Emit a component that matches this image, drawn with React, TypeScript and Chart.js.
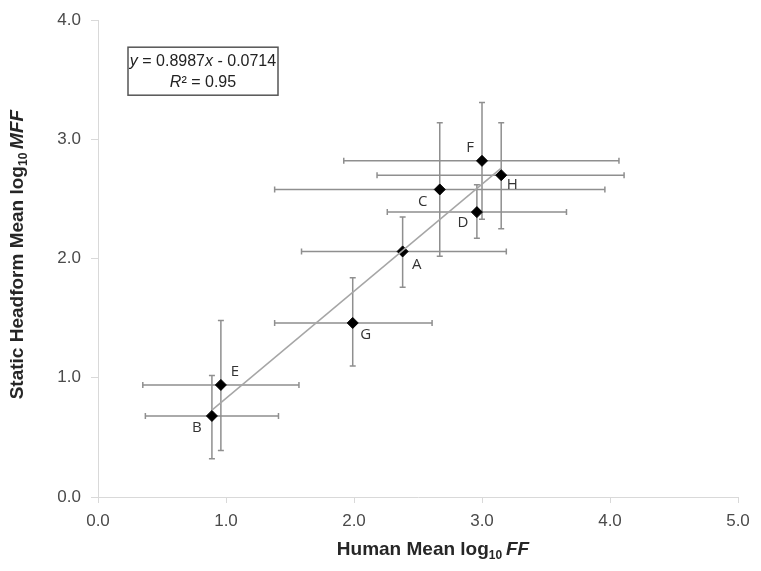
import React, { useEffect, useRef } from 'react';
import { Chart, registerables } from 'chart.js';

Chart.register(...registerables);

// ---- data ----
const pointLabels = ['A', 'B', 'C', 'D', 'E', 'F', 'G', 'H'];
const humanMean = [2.38, 0.89, 2.67, 2.96, 0.96, 3.0, 1.99, 3.15];
const headformMean = [2.06, 0.68, 2.58, 2.39, 0.94, 2.82, 1.46, 2.7];
const humanLow = [1.59, 0.37, 1.38, 2.26, 0.35, 1.92, 1.38, 2.18];
const humanHigh = [3.19, 1.41, 3.96, 3.66, 1.57, 4.07, 2.61, 4.11];
const headformLow = [1.76, 0.32, 2.02, 2.17, 0.39, 2.33, 1.1, 2.25];
const headformHigh = [2.35, 1.02, 3.14, 2.62, 1.48, 3.31, 1.84, 3.14];
const trendSlope = 0.8987;
const trendIntercept = -0.0714;
const rSquared = '0.95';
const xAxisRange = [0, 5];
const yAxisRange = [0, 4];

// label placement offsets (style, in px)
const labelOffsets: Record<string, [number, number]> = {
  A: [14, 13], B: [-15, 12], C: [-17, 12], D: [-14, 11],
  E: [14, -13], F: [-12, -13], G: [13, 12], H: [11, 10],
};

type Seg = { t: string; bold?: boolean; italic?: boolean; sub?: boolean };

const FONT = '"Liberation Sans", Arial, sans-serif';

function segFont(s: Seg, size: number) {
  const sz = s.sub ? Math.round(size * 0.65) : size;
  return `${s.italic ? 'italic ' : ''}${s.bold ? 'bold ' : ''}${sz}px ${FONT}`;
}

function drawSegs(ctx: CanvasRenderingContext2D, segs: Seg[], cx: number, cy: number, size: number) {
  let total = 0;
  const widths = segs.map((s) => {
    ctx.font = segFont(s, size);
    const w = ctx.measureText(s.t).width;
    total += w;
    return w;
  });
  let x = cx - total / 2;
  ctx.textAlign = 'left';
  ctx.textBaseline = 'middle';
  segs.forEach((s, i) => {
    ctx.font = segFont(s, size);
    ctx.fillText(s.t, x, cy + (s.sub ? size * 0.3 : 0));
    x += widths[i];
  });
}

const decorPlugin = {
  id: 'decor',
  beforeDatasetsDraw(chart: any) {
    const ctx = chart.ctx as CanvasRenderingContext2D;
    const xs = chart.scales.x;
    const ys = chart.scales.y;
    ctx.save();
    ctx.strokeStyle = '#8f8f8f';
    ctx.lineWidth = 1.5;
    const cap = 3;
    humanMean.forEach((hx, i) => {
      const px = xs.getPixelForValue(hx);
      const py = ys.getPixelForValue(headformMean[i]);
      const x1 = xs.getPixelForValue(humanLow[i]);
      const x2 = xs.getPixelForValue(humanHigh[i]);
      const y1 = ys.getPixelForValue(headformLow[i]);
      const y2 = ys.getPixelForValue(headformHigh[i]);
      ctx.beginPath();
      ctx.moveTo(x1, py); ctx.lineTo(x2, py);
      ctx.moveTo(x1, py - cap); ctx.lineTo(x1, py + cap);
      ctx.moveTo(x2, py - cap); ctx.lineTo(x2, py + cap);
      ctx.moveTo(px, y1); ctx.lineTo(px, y2);
      ctx.moveTo(px - cap, y1); ctx.lineTo(px + cap, y1);
      ctx.moveTo(px - cap, y2); ctx.lineTo(px + cap, y2);
      ctx.stroke();
    });
    ctx.restore();
  },
  afterDraw(chart: any) {
    const ctx = chart.ctx as CanvasRenderingContext2D;
    const xs = chart.scales.x;
    const ys = chart.scales.y;
    const ca = chart.chartArea;
    ctx.save();
    // point labels
    ctx.fillStyle = '#333333';
    ctx.font = `15px "Open Sans", ${FONT}`;
    ctx.textAlign = 'center';
    ctx.textBaseline = 'middle';
    pointLabels.forEach((lab, i) => {
      const px = xs.getPixelForValue(humanMean[i]);
      const py = ys.getPixelForValue(headformMean[i]);
      const [dx, dy] = labelOffsets[lab];
      ctx.fillText(lab, px + dx, py + dy);
    });

    // equation box
    const bx = ca.left + 30;
    const by = ca.top + 27;
    const bw = 150;
    const bh = 48;
    ctx.fillStyle = '#ffffff';
    ctx.fillRect(bx, by, bw, bh);
    ctx.strokeStyle = '#555555';
    ctx.lineWidth = 1.5;
    ctx.strokeRect(bx, by, bw, bh);
    ctx.fillStyle = '#222222';
    const sign = trendIntercept < 0 ? '-' : '+';
    drawSegs(ctx, [
      { t: 'y', italic: true },
      { t: ` = ${trendSlope.toFixed(4)}` },
      { t: 'x', italic: true },
      { t: ` ${sign} ${Math.abs(trendIntercept).toFixed(4)}` },
    ], bx + bw / 2, by + 14, 16);
    drawSegs(ctx, [
      { t: 'R', italic: true },
      { t: '²' },
      { t: ` = ${rSquared}` },
    ], bx + bw / 2, by + 35, 16);

    // axis titles
    ctx.fillStyle = '#262626';
    drawSegs(ctx, [
      { t: 'Human Mean log', bold: true },
      { t: '10', bold: true, sub: true },
      { t: '\u2009' },
      { t: 'FF', bold: true, italic: true },
    ], (ca.left + ca.right) / 2 + 15, 550, 19);

    ctx.translate(18, (ca.top + ca.bottom) / 2 - 4);
    ctx.rotate(-Math.PI / 2);
    drawSegs(ctx, [
      { t: 'Static Headform Mean log', bold: true },
      { t: '10', bold: true, sub: true },
      { t: '\u2009' },
      { t: 'MFF', bold: true, italic: true },
    ], 0, 0, 19);
    ctx.restore();
  },
};

export default function App() {
  const ref = useRef<HTMLCanvasElement>(null);
  useEffect(() => {
    document.body.style.margin = '0';
    const xMin = Math.min(...humanMean);
    const xMax = Math.max(...humanMean);
    const chart = new Chart(ref.current!, {
      type: 'scatter',
      data: {
        datasets: [
          {
            type: 'line',
            label: 'Trend',
            data: [
              { x: xMin, y: trendSlope * xMin + trendIntercept },
              { x: xMax, y: trendSlope * xMax + trendIntercept },
            ],
            borderColor: '#a6a6a6',
            borderWidth: 1.5,
            pointRadius: 0,
            fill: false,
          } as any,
          {
            label: 'Points',
            data: humanMean.map((x, i) => ({ x, y: headformMean[i] })),
            pointStyle: 'rectRot',
            pointRadius: 5.5,
            backgroundColor: '#000000',
            borderColor: '#000000',
          },
        ],
      },
      options: {
        responsive: false,
        animation: false,
        layout: { padding: { top: 18, right: 23, left: 0, bottom: 0 } },
        plugins: { legend: { display: false }, tooltip: { enabled: false } },
        scales: {
          x: {
            type: 'linear',
            min: xAxisRange[0],
            max: xAxisRange[1],
            ticks: {
              stepSize: 1,
              callback: (v: any) => Number(v).toFixed(1),
              font: { size: 17, family: FONT },
              color: '#4a4a4a',
              padding: 8,
            },
            grid: { drawOnChartArea: false, drawTicks: true, tickLength: 6, color: '#d9d9d9' },
            border: { color: '#d9d9d9', width: 1 },
            afterFit: (s: any) => { s.height = 74; },
          },
          y: {
            type: 'linear',
            min: yAxisRange[0],
            max: yAxisRange[1],
            ticks: {
              stepSize: 1,
              callback: (v: any) => Number(v).toFixed(1),
              font: { size: 17, family: FONT },
              color: '#4a4a4a',
              padding: 10,
            },
            grid: { drawOnChartArea: false, drawTicks: true, tickLength: 7, color: '#d9d9d9' },
            border: { color: '#d9d9d9', width: 1 },
            afterFit: (s: any) => { s.width = 98; },
          },
        },
      },
      plugins: [decorPlugin],
    });
    return () => chart.destroy();
  }, []);
  return (
    <div style={{ position: 'absolute', left: 0, top: 0, width: 761, height: 571 }}>
      <canvas ref={ref} width={761} height={571} />
    </div>
  );
}
